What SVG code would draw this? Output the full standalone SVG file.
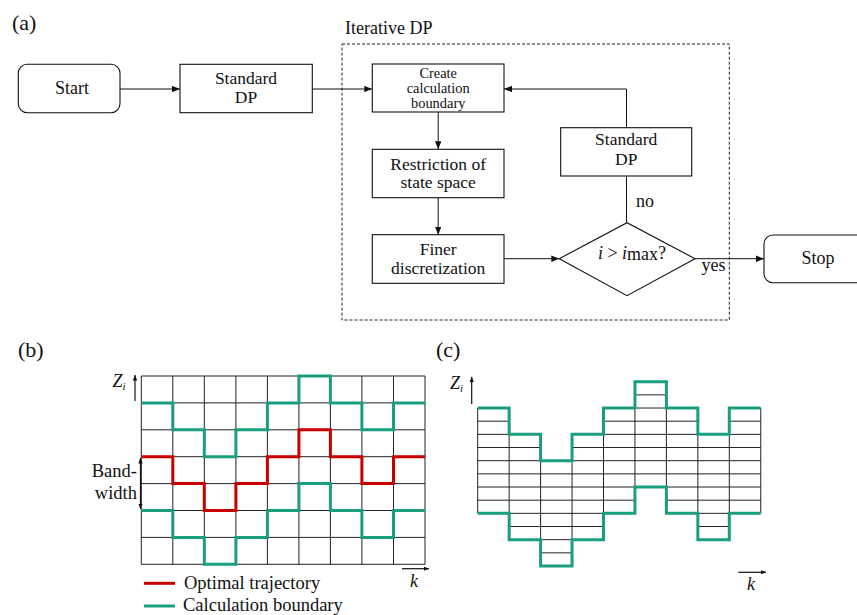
<svg xmlns="http://www.w3.org/2000/svg" width="857" height="615" viewBox="0 0 857 615">
<style>
text{font-family:"Liberation Serif",Tinos,"Times New Roman",Times,"Noto Serif","DejaVu Serif",serif;font-size:18px;fill:#111}
.c{text-anchor:middle}
.box{fill:#fff;stroke:#111;stroke-width:1.1}
.con{fill:none;stroke:#111;stroke-width:1}
.grid{fill:none;stroke:#222;stroke-width:1}
.teal{fill:none;stroke:#1b9e80;stroke-width:3}
.red{fill:none;stroke:#c80000;stroke-width:3}
.ax{fill:none;stroke:#111;stroke-width:1.2}
.lbl{font-size:22px}
.it{font-style:italic}
.tight{font-size:14.4px}
.mid{font-size:17.5px}
.leg{font-size:18.5px}
</style>
<defs>
<marker id="ah" viewBox="0 0 10 8" refX="10" refY="4" markerWidth="8" markerHeight="6.5" markerUnits="userSpaceOnUse" orient="auto">
<path d="M0,0 L10,4 L0,8 z" fill="#111"/>
</marker>
<marker id="sh" viewBox="0 0 10 8" refX="10" refY="4" markerWidth="5.5" markerHeight="4.5" markerUnits="userSpaceOnUse" orient="auto-start-reverse">
<path d="M0,0 L10,4 L0,8 z" fill="#111"/>
</marker>
</defs>
<rect width="857" height="615" fill="#fff"/>

<text class="lbl" x="12" y="30">(a)</text>

<g id="iterative-dp">
<rect x="342" y="44" width="387.3" height="276" fill="none" stroke="#222" stroke-width="1" stroke-dasharray="3,2"/>
<text x="345" y="34">Iterative DP</text>
</g>

<g id="connectors">
<path class="con" d="M120,89 H180" marker-end="url(#ah)"/>
<path class="con" d="M312.3,89 H372.3" marker-end="url(#ah)"/>
<path class="con" d="M438.2,112 V149.3" marker-end="url(#ah)"/>
<path class="con" d="M438.2,197.7 V234.7" marker-end="url(#ah)"/>
<path class="con" d="M504,258.7 H559.3" marker-end="url(#ah)"/>
<path class="con" d="M626.5,222.7 V176"/>
<path class="con" d="M626.5,127.7 V89 H504" marker-end="url(#ah)"/>
<path class="con" d="M695,258.7 H764" marker-end="url(#ah)"/>
<text x="636" y="207">no</text>
<text x="701.5" y="271">yes</text>
</g>

<g id="start">
<rect class="box" x="18.3" y="64.3" width="101.7" height="48.4" rx="9"/>
<text class="c" x="72" y="94">Start</text>
</g>

<g id="standard-dp-1">
<rect class="box" x="180" y="64.3" width="132.3" height="48.4"/>
<text class="c mid" x="246" y="84">Standard</text>
<text class="c mid" x="246" y="102.5">DP</text>
</g>

<g id="create-boundary">
<rect class="box" x="372.3" y="64" width="131.7" height="48"/>
<text class="c tight" x="438.2" y="77.5">Create</text>
<text class="c tight" x="438.2" y="92.5">calculation</text>
<text class="c tight" x="438.2" y="107.5">boundary</text>
</g>

<g id="restriction">
<rect class="box" x="372.3" y="149.3" width="131.7" height="48.4"/>
<text class="c mid" x="438.2" y="169.5">Restriction of</text>
<text class="c mid" x="438.2" y="188">state space</text>
</g>

<g id="finer">
<rect class="box" x="372.3" y="234.7" width="131.7" height="48.6"/>
<text class="c mid" x="438.2" y="255">Finer</text>
<text class="c mid" x="438.2" y="273.5">discretization</text>
</g>

<g id="decision">
<path class="box" d="M559.3,258.7 L627,222.7 L695,258.7 L627,295.7 z"/>
<text class="c" x="632" y="258.5" font-size="19"><tspan class="it">i</tspan> &gt; <tspan class="it">i</tspan><tspan dy="1.5">max</tspan><tspan dy="-1.5">?</tspan></text>
</g>

<g id="standard-dp-2">
<rect class="box" x="560.7" y="127.7" width="131" height="48.3"/>
<text class="c mid" x="626.2" y="145">Standard</text>
<text class="c mid" x="626.2" y="164.5">DP</text>
</g>

<g id="stop">
<rect class="box" x="764" y="235" width="102" height="47.7" rx="9"/>
<text class="c" x="818" y="264">Stop</text>
</g>

<g id="panel-b">
<text class="lbl" x="18" y="357">(b)</text>
<path class="grid" d="M141.3,376 V564.3 M172.8,376 V564.3 M204.3,376 V564.3 M235.9,376 V564.3 M267.4,376 V564.3 M298.9,376 V564.3 M330.4,376 V564.3 M361.9,376 V564.3 M393.5,376 V564.3 M425,376 V564.3
M141.3,376 H425 M141.3,402.9 H425 M141.3,429.8 H425 M141.3,456.7 H425 M141.3,483.6 H425 M141.3,510.5 H425 M141.3,537.4 H425 M141.3,564.3 H425"/>
<path class="teal" d="M141.3,402.9 H172.8 V429.8 H204.3 V456.7 H235.9 V429.8 H267.4 V402.9 H298.9 V376 H330.4 V402.9 H361.9 V429.8 H393.5 V402.9 H425"/>
<path class="red" d="M141.3,456.7 H172.8 V483.6 H204.3 V510.5 H235.9 V483.6 H267.4 V456.7 H298.9 V429.8 H330.4 V456.7 H361.9 V483.6 H393.5 V456.7 H425"/>
<path class="teal" d="M141.3,510.5 H172.8 V537.4 H204.3 V564.3 H235.9 V537.4 H267.4 V510.5 H298.9 V483.6 H330.4 V510.5 H361.9 V537.4 H393.5 V510.5 H425"/>
<path class="ax" d="M135,401 V375" marker-end="url(#sh)"/>
<text class="it" x="112.5" y="386.5" font-size="15">Z<tspan font-size="11" dy="3">i</tspan></text>
<path class="ax" d="M140.5,458 V509" marker-start="url(#sh)" marker-end="url(#sh)"/>
<text class="leg" x="137" y="477" text-anchor="end">Band-</text>
<text class="leg" x="137" y="499" text-anchor="end">width</text>
<path class="ax" d="M402,568.7 H429" marker-end="url(#sh)"/>
<text class="it" x="410" y="586.5">k</text>
<path class="red" d="M144,583.3 H175"/>
<text class="leg" x="184" y="588.5">Optimal trajectory</text>
<path class="teal" d="M144,606 H175"/>
<text class="leg" x="183" y="611">Calculation boundary</text>
</g>

<g id="panel-c">
<text class="lbl" x="436" y="357">(c)</text>
<path class="grid" d="
M477.7,421.2 H509.15 M477.7,434.36 H509.15 M477.7,447.53 H509.15 M477.7,460.69 H509.15 M477.7,473.86 H509.15 M477.7,487.02 H509.15 M477.7,500.19 H509.15
M509.15,447.53 H540.6 M509.15,460.69 H540.6 M509.15,473.86 H540.6 M509.15,487.02 H540.6 M509.15,500.19 H540.6 M509.15,513.35 H540.6 M509.15,526.52 H540.6
M540.6,473.86 H572.05 M540.6,487.02 H572.05 M540.6,500.19 H572.05 M540.6,513.35 H572.05 M540.6,526.52 H572.05 M540.6,539.68 H572.05 M540.6,552.85 H572.05
M572.05,447.53 H603.5 M572.05,460.69 H603.5 M572.05,473.86 H603.5 M572.05,487.02 H603.5 M572.05,500.19 H603.5 M572.05,513.35 H603.5 M572.05,526.52 H603.5
M603.5,421.2 H634.95 M603.5,434.36 H634.95 M603.5,447.53 H634.95 M603.5,460.69 H634.95 M603.5,473.86 H634.95 M603.5,487.02 H634.95 M603.5,500.19 H634.95
M634.95,394.87 H666.4 M634.95,408.03 H666.4 M634.95,421.2 H666.4 M634.95,434.36 H666.4 M634.95,447.53 H666.4 M634.95,460.69 H666.4 M634.95,473.86 H666.4
M666.4,421.2 H697.85 M666.4,434.36 H697.85 M666.4,447.53 H697.85 M666.4,460.69 H697.85 M666.4,473.86 H697.85 M666.4,487.02 H697.85 M666.4,500.19 H697.85
M697.85,447.53 H729.3 M697.85,460.69 H729.3 M697.85,473.86 H729.3 M697.85,487.02 H729.3 M697.85,500.19 H729.3 M697.85,513.35 H729.3 M697.85,526.52 H729.3
M729.3,421.2 H760.75 M729.3,434.36 H760.75 M729.3,447.53 H760.75 M729.3,460.69 H760.75 M729.3,473.86 H760.75 M729.3,487.02 H760.75 M729.3,500.19 H760.75
M477.7,408.03 V513.35 M509.15,408.03 V539.68 M540.6,434.36 V566.01 M572.05,434.36 V566.01 M603.5,408.03 V539.68 M634.95,381.7 V513.35 M666.4,381.7 V513.35 M697.85,408.03 V539.68 M729.3,408.03 V539.68 M760.75,408.03 V513.35"/>
<path class="teal" d="M477.7,408.03 H509.15 V434.36 H540.6 V460.69 H572.05 V434.36 H603.5 V408.03 H634.95 V381.7 H666.4 V408.03 H697.85 V434.36 H729.3 V408.03 H760.75"/>
<path class="teal" d="M477.7,513.35 H509.15 V539.68 H540.6 V566.01 H572.05 V539.68 H603.5 V513.35 H634.95 V487.02 H666.4 V513.35 H697.85 V539.68 H729.3 V513.35 H760.75"/>
<path class="ax" d="M471.7,404 V376.7" marker-end="url(#sh)"/>
<text class="it" x="450" y="389" font-size="15">Z<tspan font-size="11" dy="3">i</tspan></text>
<path class="ax" d="M738.3,572.3 H766" marker-end="url(#sh)"/>
<text class="it" x="747" y="590">k</text>
</g>
</svg>
